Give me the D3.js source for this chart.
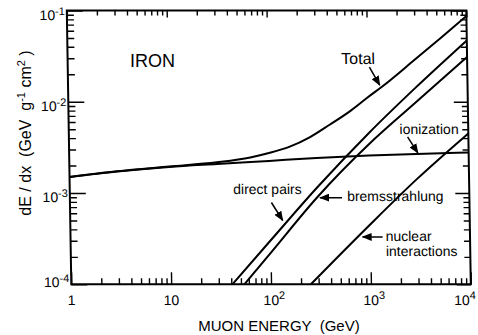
<!DOCTYPE html>
<html>
<head>
<meta charset="utf-8">
<script src="https://cdn.jsdelivr.net/npm/d3@7"></script>
<style>
  html, body { margin: 0; padding: 0; background: #fff; }
  svg { display: block; font-family: "Liberation Sans", Arial, Helvetica, sans-serif; }
</style>
</head>
<body>
<svg id="chart" width="478" height="335"></svg>
<script>
// Muon energy loss in iron: dE/dx (GeV g^-1 cm^2) versus muon energy (GeV)

// ionization
const ionE = [1, 3, 10, 30, 100, 300, 1000, 3000, 10000];
const ionV = [1.5e-3, 1.72e-3, 1.93e-3, 2.08e-3, 2.25e-3, 2.42e-3, 2.57e-3, 2.68e-3, 2.78e-3];
// total
const totalE = [1, 3, 10, 30, 65, 100, 160, 260, 410, 650, 1000, 1400, 3000, 5600, 10000];
const totalV = [1.5e-3, 1.73e-3, 1.95e-3, 2.17e-3, 2.45e-3, 2.74e-3, 3.2e-3, 4.1e-3, 5.6e-3, 7.8e-3, 0.0112, 0.0147, 0.029, 0.051, 0.087];
// direct pair production
const pairE = [41, 100, 300, 1000, 3000, 10000];
const pairV = [1.0e-4, 3.0e-4, 1.15e-3, 4.5e-3, 0.0142, 0.047];
// bremsstrahlung
const bremE = [54, 100, 300, 1000, 3000, 10000];
const bremV = [1.0e-4, 2.2e-4, 9.0e-4, 3.4e-3, 9.8e-3, 0.031];
// photonuclear interactions
const nucE = [250, 1000, 3000, 10000];
const nucV = [1.0e-4, 4.5e-4, 1.42e-3, 4.5e-3];

// tick labels: base and exponent
const xTickVals = [1, 10, 100, 1000, 10000];
const xTickBase = ["1", "10", "10", "10", "10"];
const xTickExp  = ["", "", "2", "3", "4"];
const yTickVals = [1e-4, 1e-3, 1e-2, 1e-1];
const yTickBase = ["10", "10", "10", "10"];
const yTickExp  = ["-4", "-3", "-2", "-1"];

// curve annotations: arrow tip on the curve (E, dE/dx), tail and label offsets in px
const notes = [
  { tip: [1320, 0.0152], tail: [-10, -18], size: 16, lines: [["Total", -38, -21]] },
  { tip: [3100, 2.75e-3], tail: [-10, -16], size: 14, lines: [["ionization", -18, -19]] },
  { tip: [134, 5.0e-4], tail: [-11, -18], size: 14, lines: [["direct pairs", -49, -27]] },
  { tip: [320, 8.9e-4], tail: [22, 0], size: 14, lines: [["bremsstrahlung", 27, 3]] },
  { tip: [841, 3.3e-4], tail: [20, 0], size: 14, lines: [["nuclear", 23, 4], ["interactions", 23, 19]] }
];

const W = 478, H = 335;
const frame = { x: 66.8, y: 10.5, w: 399.5, h: 273.8, lean: 4.5 };
const skewDeg = Math.atan(frame.lean / frame.h) * 180 / Math.PI;

const svg = d3.select("#chart");

const x = d3.scaleLog().domain([1, 1e4]).range([0, frame.w]);
const y = d3.scaleLog().domain([1e-4, 1e-1]).range([frame.h, 0]);

const g = svg.append("g")
  .attr("transform", `translate(${frame.x},${frame.y}) skewX(${skewDeg})`);

const defs = svg.append("defs");
defs.append("clipPath").attr("id", "plot-clip")
  .append("rect").attr("width", frame.w).attr("height", frame.h);
defs.append("marker")
  .attr("id", "head")
  .attr("markerUnits", "userSpaceOnUse")
  .attr("viewBox", "0 0 10 8")
  .attr("markerWidth", 10).attr("markerHeight", 8)
  .attr("refX", 9).attr("refY", 4)
  .attr("orient", "auto")
  .append("path").attr("d", "M0,0L10,4L0,8Z").attr("fill", "#000");

// ticks
function minorTicks(lo, hi) {
  const out = [];
  for (let d = lo; d < hi; d *= 10) for (let m = 2; m < 10; m++) out.push(m * d);
  return out;
}
const xMinor = minorTicks(1, 1e4);
const yMinor = minorTicks(1e-4, 1e-1);

function styleTicks(sel) {
  sel.select(".domain").remove();
  sel.selectAll("text").remove();
  sel.selectAll("line").attr("stroke", "#000").attr("stroke-width", 1.4);
}

const axes = g.append("g");
axes.append("g").attr("transform", `translate(0,${frame.h})`)
  .call(d3.axisBottom(x).tickValues(xMinor).tickSize(-6)).call(styleTicks);
axes.append("g").attr("transform", `translate(0,${frame.h})`)
  .call(d3.axisBottom(x).tickValues(xTickVals).tickSize(-12)).call(styleTicks);
axes.append("g")
  .call(d3.axisTop(x).tickValues(xMinor).tickSize(-5)).call(styleTicks);
axes.append("g")
  .call(d3.axisTop(x).tickValues(xTickVals).tickSize(-7)).call(styleTicks);
axes.append("g")
  .call(d3.axisLeft(y).tickValues(yMinor).tickSize(-7)).call(styleTicks);
axes.append("g")
  .call(d3.axisLeft(y).tickValues(yTickVals).tickSize(-16)).call(styleTicks);
axes.append("g").attr("transform", `translate(${frame.w},0)`)
  .call(d3.axisRight(y).tickValues(yMinor).tickSize(-6)).call(styleTicks);
axes.append("g").attr("transform", `translate(${frame.w},0)`)
  .call(d3.axisRight(y).tickValues(yTickVals).tickSize(-14)).call(styleTicks);

// curves
const series = [
  { e: ionE, v: ionV },
  { e: totalE, v: totalV },
  { e: pairE, v: pairV },
  { e: bremE, v: bremV },
  { e: nucE, v: nucV }
];
const line = d3.line().x(d => x(d[0])).y(d => y(d[1])).curve(d3.curveMonotoneX);
g.append("g").attr("clip-path", "url(#plot-clip)")
  .selectAll("path").data(series).join("path")
  .attr("d", s => line(d3.zip(s.e, s.v)))
  .attr("fill", "none").attr("stroke", "#000").attr("stroke-width", 2)
  .attr("stroke-linejoin", "round");

// frame
g.append("rect").attr("width", frame.w).attr("height", frame.h)
  .attr("fill", "none").attr("stroke", "#000").attr("stroke-width", 2);

// x tick labels: the "10" is centred on its tick, exponent hangs to the right
const xLab = g.append("g").attr("font-size", 14).attr("fill", "#000");
xTickVals.forEach((v, i) => {
  const t = xLab.append("text").attr("y", frame.h + 20.7);
  const base = t.append("tspan").text(xTickBase[i]);
  if (xTickExp[i]) t.append("tspan").attr("dy", -6).attr("font-size", 11).text(xTickExp[i]);
  const bw = base.node().getComputedTextLength();
  t.attr("x", x(v) - bw / 2);
  const r = t.node().getBoundingClientRect();
  if (r.right > W - 2) t.attr("x", x(v) - bw / 2 - (r.right - (W - 2)));
});

// y tick labels
const yLab = g.append("g").attr("font-size", 14).attr("fill", "#000").attr("text-anchor", "end");
yTickVals.forEach((v, i) => {
  const t = yLab.append("text").attr("x", -2).attr("y", Math.min(y(v) + 9, frame.h + 3));
  t.append("tspan").text(yTickBase[i]);
  t.append("tspan").attr("dy", -5).attr("font-size", 11).text(yTickExp[i]);
});

// annotations
const ann = g.append("g").attr("fill", "#000");
notes.forEach(n => {
  const tx = x(n.tip[0]), ty = y(n.tip[1]);
  ann.append("line")
    .attr("x1", tx + n.tail[0]).attr("y1", ty + n.tail[1])
    .attr("x2", tx).attr("y2", ty)
    .attr("stroke", "#000").attr("stroke-width", 1.5)
    .attr("marker-end", "url(#head)");
  n.lines.forEach(([txt, dx, dy]) => {
    ann.append("text").attr("x", tx + dx).attr("y", ty + dy)
      .attr("font-size", n.size).text(txt);
  });
});

// material label
svg.append("text").attr("x", 130).attr("y", 67).attr("font-size", 18).text("IRON");

// axis titles
svg.append("text").attr("x", 279).attr("y", 331).attr("text-anchor", "middle")
  .attr("font-size", 15).style("white-space", "pre").text("MUON ENERGY  (GeV)");

const yt = svg.append("text")
  .attr("transform", "translate(31,133) rotate(-90)")
  .attr("text-anchor", "middle").attr("font-size", 16).style("white-space", "pre");
yt.append("tspan").text("dE / dx  (GeV  g");
yt.append("tspan").attr("dy", -6).attr("font-size", 11).text("-1");
yt.append("tspan").attr("dy", 6).text(" cm");
yt.append("tspan").attr("dy", -6).attr("font-size", 11).text("2");
yt.append("tspan").attr("dy", 6).text(" )");
</script>
</body>
</html>
